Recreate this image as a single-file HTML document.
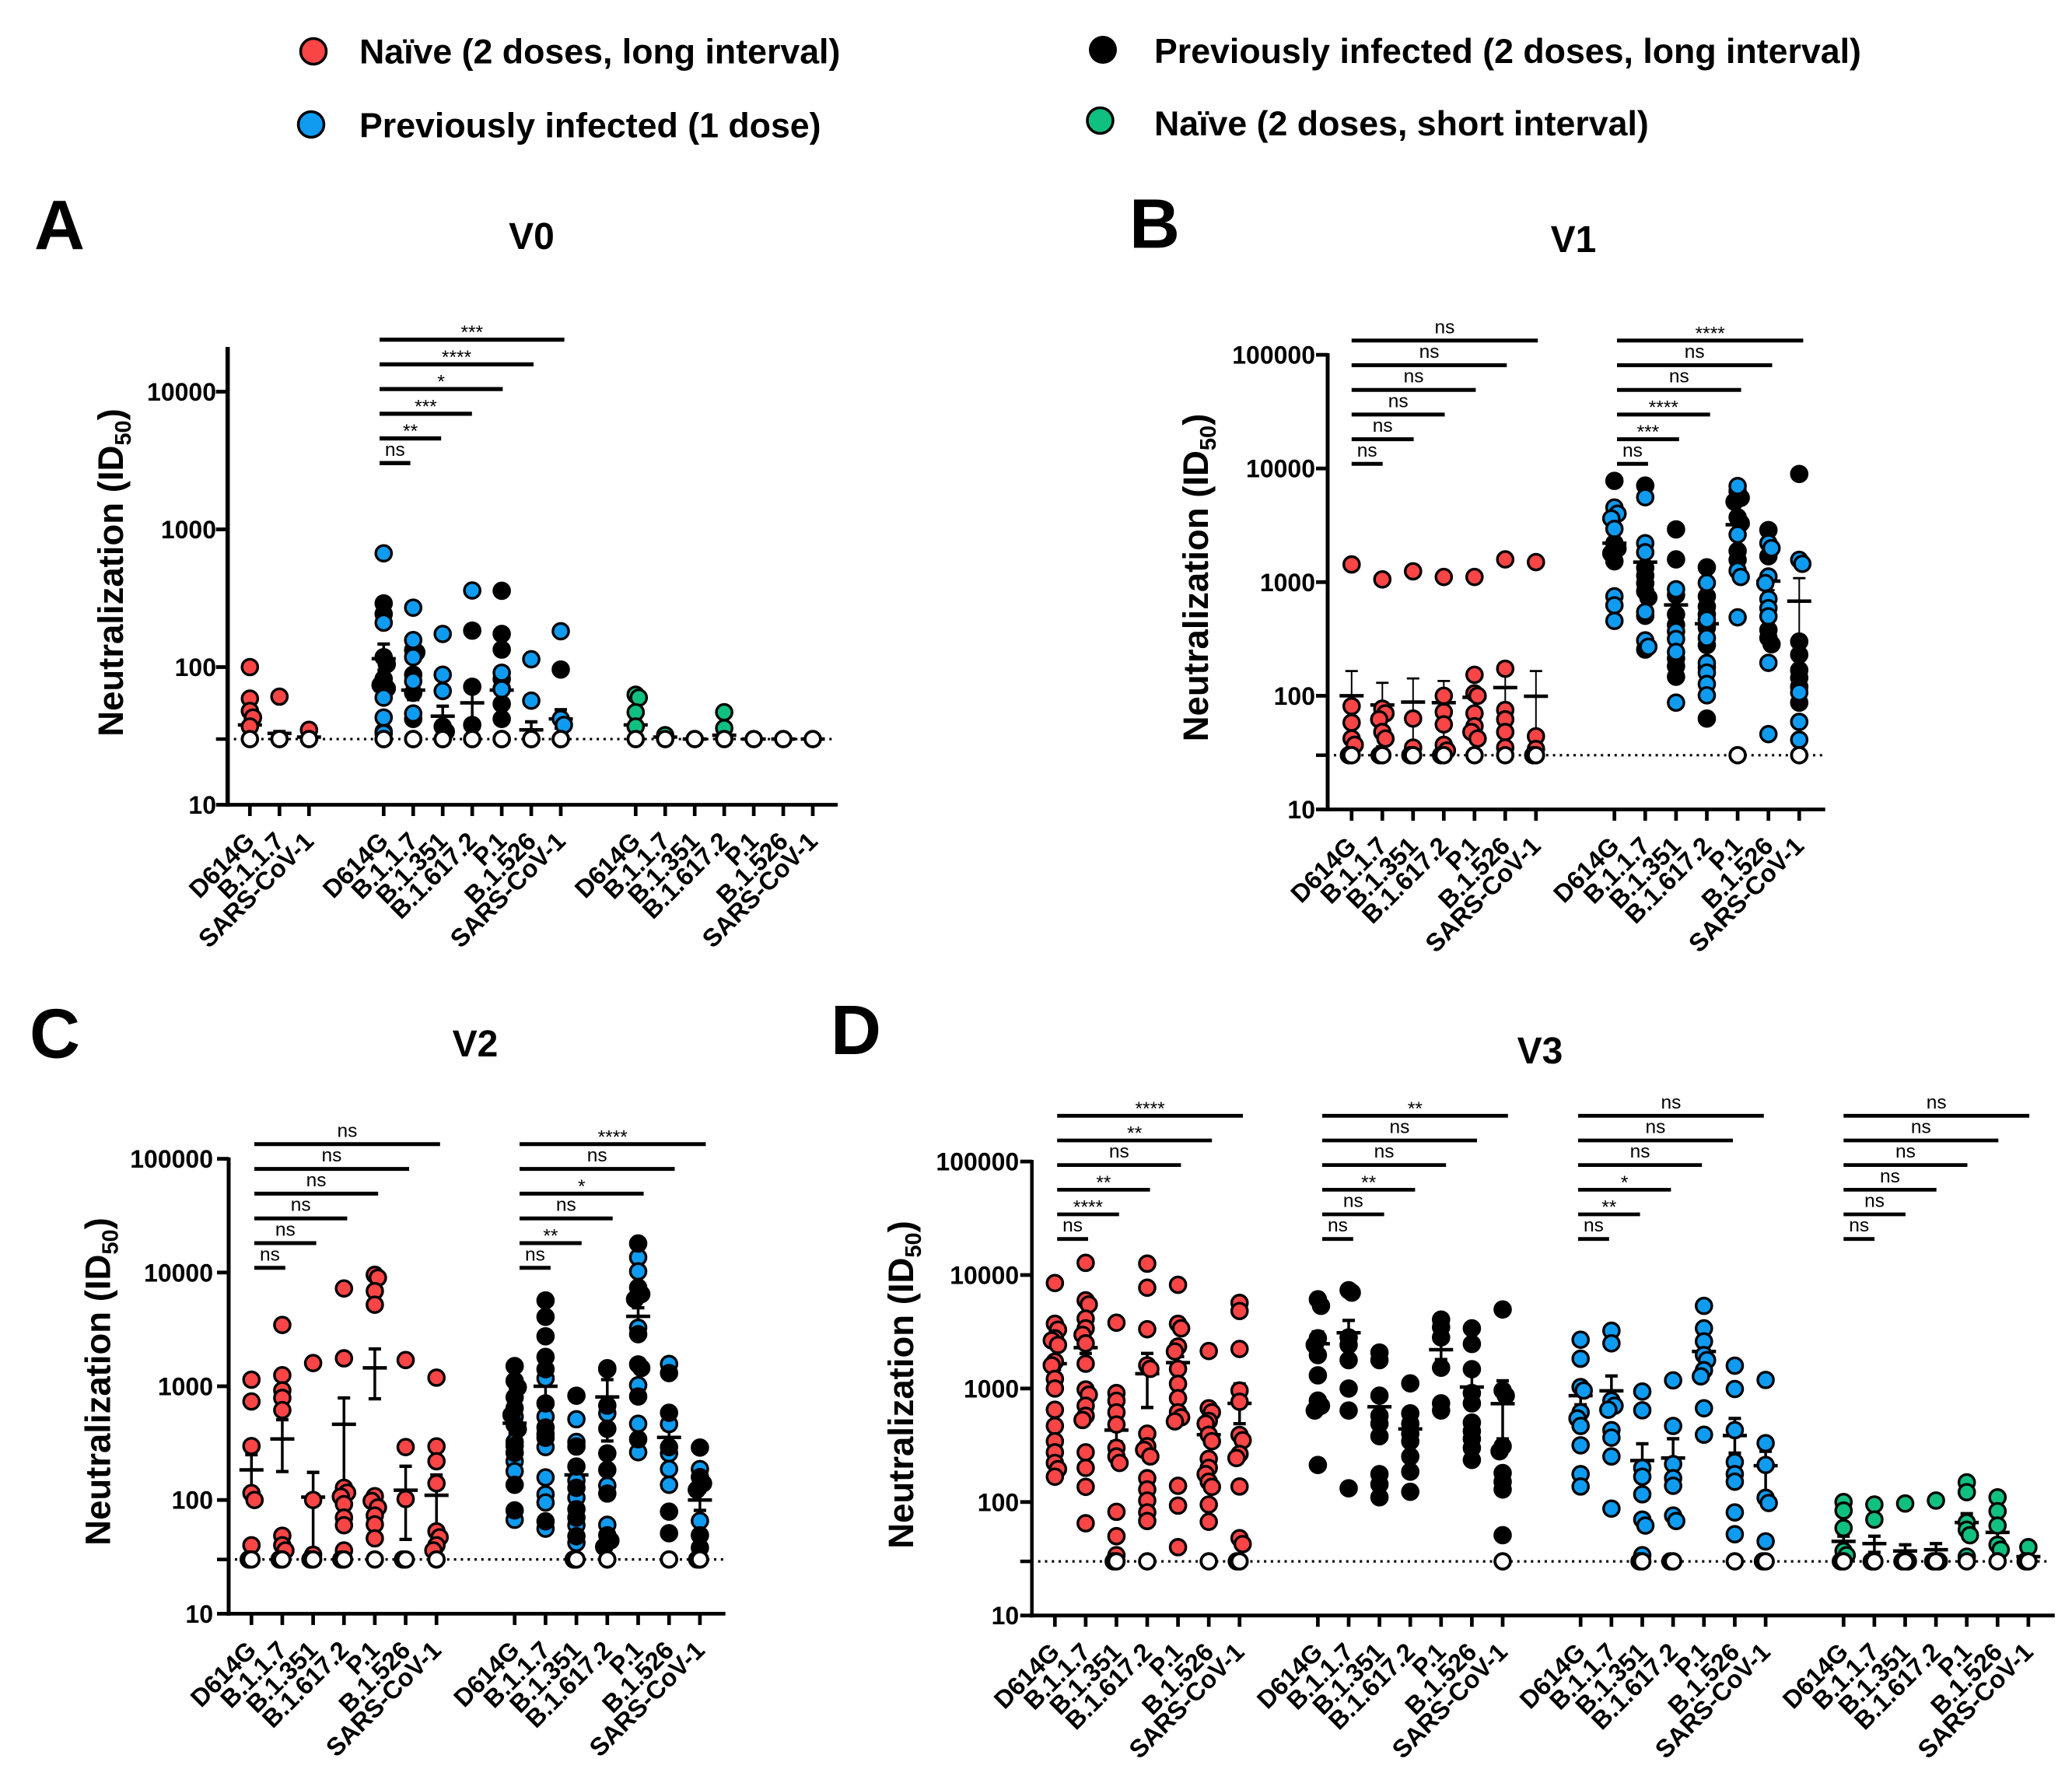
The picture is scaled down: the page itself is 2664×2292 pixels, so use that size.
<!DOCTYPE html>
<html lang="en">
<head>
<meta charset="utf-8">
<title>Neutralization titers by variant and visit</title>
<style>
html,body{margin:0;padding:0;background:#fff}
svg{display:block}
text{font-family:"Liberation Sans",Arial,sans-serif;fill:#000}
.b{font-weight:700}
</style>
</head>
<body>
<svg id="figure" xmlns="http://www.w3.org/2000/svg" width="2664" height="2292" viewBox="0 0 2664 2292">
  <rect width="2664" height="2292" fill="#fff"/>
  <g>
    <circle cx="403" cy="66" r="16.5" fill="#F94545" stroke="#000" stroke-width="3.5"/>
    <text class="b" x="462" y="81.5" font-size="44.7">Naïve (2 doses, long interval)</text>
    <circle cx="400" cy="160" r="16.5" fill="#0F9BF0" stroke="#000" stroke-width="3.5"/>
    <text class="b" x="462" y="176.5" font-size="44.7">Previously infected (1 dose)</text>
    <circle cx="1418" cy="64" r="18" fill="#000"/>
    <text class="b" x="1484" y="81" font-size="44.7">Previously infected (2 doses, long interval)</text>
    <circle cx="1414.5" cy="155" r="16.5" fill="#10C080" stroke="#000" stroke-width="3.5"/>
    <text class="b" x="1484" y="174" font-size="44.7">Naïve (2 doses, short interval)</text>
  </g>
  <text class="b" x="44" y="320.5" font-size="90">A</text>
  <text class="b" x="1452" y="318.5" font-size="90">B</text>
  <text class="b" x="38" y="1359.5" font-size="90">C</text>
  <text class="b" x="1068" y="1355" font-size="90">D</text>
  <text class="b" x="683.5" y="320" font-size="48" text-anchor="middle">V0</text>
  <text class="b" x="2023" y="324" font-size="48" text-anchor="middle">V1</text>
  <text class="b" x="611" y="1358" font-size="48" text-anchor="middle">V2</text>
  <text class="b" x="1980" y="1367" font-size="48" text-anchor="middle">V3</text>
  <g id="plots"></g>
</svg>
<script>
// Shared category and tick data
const categoriesFull = ['D614G','B.1.1.7','B.1.351','B.1.617.2','P.1','B.1.526','SARS-CoV-1'];
const categoriesShort = ['D614G','B.1.1.7','SARS-CoV-1'];
const ticksShortRange = [10,100,1000,10000];
const ticksLongRange = [10,100,1000,10000,100000];
const detectionLimit = 30;

// Panel A (V0)
const aNaiveLong = [[100,59,48,43,37,30],[61,30],[35,30]];
const aNaiveLongMean = [38,33,31];
const aNaiveLongUp = [42,34,32];
const aNaiveLongLow = [34,32,30];
const aPrevTwo = [[290,243,118,105,82,74,70,34,30],[133,128,88,65,42,30],[37,34,30],[184,72,38,30],[358,174,134,82,70,54,42,30],[30],[96,30]];
const aPrevOne = [[670,210,60,43,33,30],[270,157,118,79,46,30],[174,88,67,30],[360,30],[91,69,30],[114,57,30],[182,42,38,30]];
const aPrevMean = [115,68,44,55,68,35,42];
const aPrevUp = [147,80,52,74,85,40,49];
const aPrevLow = [95,58,38,40,55,31,36];
const aNaiveShort = [[63,60,47,37,30],[32,30],[30],[47,36,30],[30],[30],[30]];
const aNaiveShortMean = [38,31,30,32,30,30,30];
const aNaiveShortUp = [41,31,30,34,30,30,30];
const aNaiveShortLow = [35,31,30,30,30,30,30];
const aBracketsMid = ['ns','**','***','*','****','***'];

// Panel B (V1)
const bNaiveLong = [[1430,81,58,42,37,30,30],[1057,77,70,62,48,42,30,30],[1245,63,35,30,30],[1110,100,72,56,37,33,30,30],[1110,153,105,100,70,54,48,42,30],[1585,173,75,62,48,35,30],[1500,44,34,30,30]];
const bNaiveMean = [100,83,88,87,97,118,99];
const bNaiveUp = [165,130,142,135,118,190,165];
const bNaiveLow = [35,36,34,39,76,46,33];
const bPrevOne = [[4530,4000,3630,2940,750,625,456],[5580,2200,1830,547,307,270],[865,369,316,243,87],[986,468,323,194,160,127,101],[7000,2620,1260,1110,490,30],[2200,1990,1120,980,710,590,500,195,46],[1570,1450,107,59,41,30]];
const bPrevTwo = [[7780,2200,1980,1790,1525],[7070,1340,1140,977,830,731,506,255],[2910,1585,771,520,420,213,182,147],[1350,750,608,520,398,279,177,63],[6300,5520,5100,3720,3300,1880,1570],[2870,1690,379,323,284],[8950,300,230,168,144,120,87]];
const bPrevMean = [2200,1500,630,430,3200,1020,680];
const bPrevUp = [2700,1750,750,490,3900,1190,1084];
const bPrevLow = [1700,1250,510,370,2500,850,270];
const bBracketsNaive = ['ns','ns','ns','ns','ns','ns'];
const bBracketsPrev = ['ns','***','****','ns','ns','****'];

// Panel C (V2)
const cNaiveLong = [[1143,735,298,115,100,40,30,30],[3460,1250,920,790,617,48.5,40,36,30,30],[1600,100,33,30,30],[7240,1760,128,116,107,92,70,60,36,30,30],[9550,9000,6870,5210,108,98,86,73,61,46,30],[1700,292,102,30,30],[1190,296,219,140,53,47,40,36,30]];
const cNaiveMean = [184,344,106,463,1450,122,110];
const cNaiveUp = [250,508,175,790,2130,198,166];
const cNaiveLow = [118,178,37,136,776,45,55];
const cPrevOne = [[540,324,219,179,67],[1175,540,380,292,158,112,95,56],[513,324,148,105,60,42,30,30],[1413,578,134,60.5,30],[13600,10230,3270,1021,468,263],[1570,465,257,187,136,30],[187,65.5,30,30]];
const cPrevTwo = [[1504,1115,980,800,643,560,460,420,300,260,136,81],[5680,4075,2750,1810,1413,707,434,352,65],[826,295,197,128,83,70,48],[1440,676,423,257,184,114,49,44,38.7],[18000,7380,6460,5830,2870,1557,1447,813,342],[1306,585,292,79,51],[289,159,140,123,49,38]];
const cPrevMean = [473,1000,166,805,4120,355,100];
const cPrevUp = [560,1200,205,1143,4900,415,118];
const cPrevLow = [385,780,127,330,3340,295,81];
const cBracketsNaive = ['ns','ns','ns','ns','ns','ns'];
const cBracketsPrev = ['ns','**','ns','*','ns','****'];

// Panel D (V3)
const dNaiveLong = [[8500,3720,3300,2770,2650,2420,1725,1600,1216,1000,650,468,343,274,221,195,167],[12800,5980,5500,4130,3390,2970,2500,1655,980,883,705,575,528,274,200,136,65],[3800,912,780,617,482,300,252,221,82,50,34,30,30],[12600,7730,3330,1600,1490,400,310,288,252,162,129,103,81,68,30],[8200,3720,3390,2345,2120,1490,1100,822,617,557,513,139,93,40],[2140,670,617,518,490,392,343,240,200,176,151,136,95,67,30],[5680,4820,2230,960,765,390,350,265,244,137,48,42.6,30,30]];
const dNaiveMean = [1655,2290,430,1350,1690,392,740];
const dNaiveUp = [1840,2540,520,2040,1910,432,1100];
const dNaiveLow = [1470,2040,340,680,1470,352,490];
const dPrevTwo = [[6110,5350,2770,2420,1970,1306,782,705,640,212],[7350,7000,2820,2420,1778,1000,640,132],[2075,1778,865,575,490,380,176,143,110],[1110,604,490,400,343,252,185,123],[4050,3470,2820,1525,740,640],[3390,2470,1480,912,740,501,422,361,300,235],[4970,960,865,310,280,180,151,129,51,30]];
const dPrevTwoMean = [2480,3100,690,440,2200,1030,735];
const dPrevTwoUp = [3150,3980,780,490,2600,1370,1170];
const dPrevTwoLow = [1810,2220,600,390,1800,690,360];
const dPrevOne = [[2690,1830,1030,960,617,545,468,316,176,137],[3230,2500,782,705,650,430,369,252,87.5],[940,643,200,167,117,70,62,34,30,30],[1180,468,216,162,139,76,68,30,30],[5350,3390,2600,1970,1778,1450,1280,670,392],[1590,990,430,225,176,151,81,52,30],[1190,330,212,109,98,45,30,30]];
const dPrevOneMean = [865,955,232,244,2120,385,209];
const dPrevOneUp = [1120,1290,326,361,2450,545,280];
const dPrevOneLow = [720,700,170,170,1800,270,120];
const dNaiveShort = [[100,84,59,37,34,30,30],[95,70,30,30],[97,30,30,30],[103,30,30,30],[149,122,66,57,51,33,30],[110,83,62,42,38,30],[40,30,30]];
const dNaiveShortMean = [45,43,37,38,66,54,33];
const dNaiveShortUp = [50,50,42,43,79,60,35];
const dNaiveShortLow = [38,36,33,33,55,45,31];
const dBracketsRed = ['ns','****','**','ns','**','****'];
const dBracketsBlack = ['ns','ns','**','ns','ns','**'];
const dBracketsBlue = ['ns','**','*','ns','ns','ns'];
const dBracketsGreen = ['ns','ns','ns','ns','ns','ns'];

const RED = '#F94545', BLUE = '#0F9BF0', BLACK = '#000', GREEN = '#10C080';
const SVGNS = 'http://www.w3.org/2000/svg';

const panels = [
  {id:'a', axisX:292.7, axisW:5.5, axisRight:1077, y10:1034.5, decade:177, top:448, ticks:ticksShortRange, labelGap:14.7, titleX:158, titleY:736, barW:3.5, dotEnd:1072,
   bracketY:595.3, bracketStep:31.73, bracketT:5.3, groups:[
    {name:'naive-long', x0:321.3, step:38, cats:categoriesShort, series:[[aNaiveLong,RED]], mean:aNaiveLongMean, up:aNaiveLongUp, low:aNaiveLongLow},
    {name:'previously-infected', x0:493.3, step:37.95, cats:categoriesFull, series:[[aPrevTwo,BLACK],[aPrevOne,BLUE]], mean:aPrevMean, up:aPrevUp, low:aPrevLow, brackets:aBracketsMid, bStart:488, bStep:39.6},
    {name:'naive-short', x0:817.3, step:37.95, cats:categoriesFull, series:[[aNaiveShort,GREEN]], mean:aNaiveShortMean, up:aNaiveShortUp, low:aNaiveShortLow}]},
  {id:'b', axisX:1707, axisW:5, axisRight:2346.7, y10:1040.5, decade:146.1, top:456, ticks:ticksLongRange, labelGap:16, titleX:1553, titleY:742.5, barW:2, dotEnd:2344,
   bracketY:596.3, bracketStep:31.7, bracketT:5, groups:[
    {name:'naive-long', x0:1737.8, step:39.5, cats:categoriesFull, series:[[bNaiveLong,RED]], mean:bNaiveMean, up:bNaiveUp, low:bNaiveLow, brackets:bBracketsNaive, bStart:1737.8, bStep:39.9},
    {name:'previously-infected', x0:2075.7, step:39.6, cats:categoriesFull, series:[[bPrevTwo,BLACK],[bPrevOne,BLUE]], mean:bPrevMean, up:bPrevUp, low:bPrevLow, brackets:bBracketsPrev, bStart:2079, bStep:39.9}]},
  {id:'c', axisX:294, axisW:5, axisRight:932.7, y10:2074.4, decade:146.2, top:1489.7, ticks:ticksLongRange, labelGap:20, titleX:141.6, titleY:1776, barW:3.5, dotEnd:930,
   bracketY:1629.8, bracketStep:31.8, bracketT:5, groups:[
    {name:'naive-long', x0:323.3, step:39.65, cats:categoriesFull, series:[[cNaiveLong,RED]], mean:cNaiveMean, up:cNaiveUp, low:cNaiveLow, brackets:cBracketsNaive, bStart:327, bStep:39.8},
    {name:'previously-infected', x0:661.7, step:39.7, cats:categoriesFull, series:[[cPrevOne,BLUE],[cPrevTwo,BLACK]], mean:cPrevMean, up:cPrevUp, low:cPrevLow, brackets:cBracketsPrev, bStart:668, bStep:39.9}]},
  {id:'d', axisX:1326.7, axisW:4.5, axisRight:2641.8, y10:2076.7, decade:145.9, top:1493, ticks:ticksLongRange, labelGap:16.5, titleX:1174, titleY:1780, barW:3.5, dotEnd:2635,
   bracketY:1592.7, bracketStep:31.68, bracketT:4.8, groups:[
    {name:'naive-long', x0:1356.3, step:39.57, cats:categoriesFull, series:[[dNaiveLong,RED]], mean:dNaiveMean, up:dNaiveUp, low:dNaiveLow, brackets:dBracketsRed, bStart:1359.2, bStep:39.8},
    {name:'previously-infected-two', x0:1694.4, step:39.6, cats:categoriesFull, series:[[dPrevTwo,BLACK]], mean:dPrevTwoMean, up:dPrevTwoUp, low:dPrevTwoLow, brackets:dBracketsBlack, bStart:1700, bStep:39.8},
    {name:'previously-infected-one', x0:2032.2, step:39.65, cats:categoriesFull, series:[[dPrevOne,BLUE]], mean:dPrevOneMean, up:dPrevOneUp, low:dPrevOneLow, brackets:dBracketsBlue, bStart:2029, bStep:39.8},
    {name:'naive-short', x0:2370.3, step:39.6, cats:categoriesFull, series:[[dNaiveShort,GREEN]], mean:dNaiveShortMean, up:dNaiveShortUp, low:dNaiveShortLow, brackets:dBracketsGreen, bStart:2370.3, bStep:39.8}]}
];

function make(parent, tag, props) {
  const el = document.createElementNS(SVGNS, tag);
  for (const k in props) el.setAttribute(k, props[k]);
  parent.appendChild(el);
  return el;
}

function drawLine(parent, x1, y1, x2, y2, w, name) {
  const el = make(parent, 'line', {x1:x1, y1:y1, x2:x2, y2:y2, stroke:'#000', 'stroke-width':w});
  
  
  return el;
}

function drawText(parent, str, x, y, size, bold, anchor, name) {
  const el = make(parent, 'text', {x:x, y:y, 'font-size':size, 'text-anchor':anchor});
  if (bold) el.setAttribute('font-weight', '700');
  el.textContent = str;
  
  
  return el;
}

function drawPanel(p) {
  const root = document.getElementById('plots');
  const g = make(root, 'g', {});
  
  
  const yOf = v => p.y10 - (Math.log10(v) - 1) * p.decade;
  const xOf = (grp, i) => grp.x0 + grp.step * i;

  // reference line at the detection limit
  const dot = make(g, 'line', {x1:p.axisX + 8, x2:p.dotEnd, y1:yOf(detectionLimit), y2:yOf(detectionLimit), stroke:'#000', 'stroke-width':3.2, 'stroke-dasharray':'3 5.8'});
  
  
  drawLine(g, p.axisX - 15, yOf(detectionLimit), p.axisX, yOf(detectionLimit), 4.5, 'y-tick-detection-limit');

  // y axis
  drawLine(g, p.axisX, p.top - 2, p.axisX, p.y10 + 2.5, p.axisW, 'y-axis');
  p.ticks.forEach(t => {
    drawLine(g, p.axisX - 15, yOf(t), p.axisX, yOf(t), 4.8, 'y-tick-' + t);
    drawText(g, String(t), p.axisX - p.labelGap, yOf(t) + 11.5, 32, true, 'end', 'y-tick-label-' + t);
  });
  drawLine(g, p.axisX - 2, p.y10, p.axisRight, p.y10, 4.8, 'x-axis');

  // y axis title
  const title = make(g, 'text', {transform:'translate(' + p.titleX + ',' + p.titleY + ') rotate(-90)', 'text-anchor':'middle', 'font-size':45.5, 'font-weight':'700'});
  
  
  title.appendChild(document.createTextNode('Neutralization (ID'));
  const sub = make(title, 'tspan', {'font-size':29, dy:10});
  sub.textContent = '50';
  const close = make(title, 'tspan', {dy:-10});
  close.textContent = ')';

  p.groups.forEach(grp => {
    const gg = make(g, 'g', {});
    
    

    grp.cats.forEach((cat, i) => {
      const x = xOf(grp, i);
      drawLine(gg, x, p.y10, x, p.y10 + 14.5, 4.7, 'x-tick-' + cat);
      const lab = drawText(gg, cat, 0, 0, 32.5, true, 'end', 'x-tick-label-' + cat);
      lab.setAttribute('transform', 'translate(' + (x + 8) + ',' + (p.y10 + 49) + ') rotate(-45)');

      // mean and error bars
      const m = grp.mean[i], up = grp.up[i], low = grp.low[i];
      drawLine(gg, x, yOf(up), x, yOf(low), p.barW, 'error-bar-' + cat);
      drawLine(gg, x - 8, yOf(up), x + 8, yOf(up), p.barW + .8, 'error-cap-upper-' + cat);
      drawLine(gg, x - 8, yOf(low), x + 8, yOf(low), p.barW + .8, 'error-cap-lower-' + cat);
      drawLine(gg, x - 15.5, yOf(m), x + 15.5, yOf(m), 4.5, 'mean-line-' + cat);
    });

    // colored points, then open points at the detection limit on top
    const whites = [];
    grp.series.forEach(s => {
      const values = s[0], color = s[1];
      values.forEach((col, i) => {
        let lastY = -1e9, side = 1, nLimit = 0;
        col.forEach(v => {
          if (v === detectionLimit) {
            whites.push([xOf(grp, i) + (nLimit === 0 ? 0 : (nLimit % 2 ? -3.5 : 3.5)), yOf(v), grp.cats[i], nLimit]);
            nLimit++;
            return;
          }
          const y = yOf(v);
          let off = 0;
          if (Math.abs(y - lastY) < 9) { off = 4 * side; side = -side; }
          lastY = y;
          const c = make(gg, 'circle', {cx:xOf(grp, i) + off, cy:y, r:10.1, fill:color, stroke:'#000', 'stroke-width':3.4});
          
          
        });
      });
    });
    whites.sort((a, b) => b[3] - a[3]).forEach(w => {
      const c = make(gg, 'circle', {cx:w[0], cy:w[1], r:9.9, fill:'#fff', stroke:'#000', 'stroke-width':3.8});
      
      
    });

    // significance brackets
    if (grp.brackets) {
      grp.brackets.forEach((label, k) => {
        const xEnd = grp.bStart + grp.bStep * (k + 1);
        const yB = p.bracketY - k * p.bracketStep;
        drawLine(gg, grp.bStart, yB, xEnd, yB, p.bracketT, 'significance-bracket-' + (k + 1));
        const isStar = label.charAt(0) === '*';
        drawText(gg, label, (grp.bStart + xEnd) / 2, isStar ? yB - 1.5 : yB - 9.5, 24.5, false, 'middle', 'significance-label-' + (k + 1));
      });
    }
  });
}

panels.forEach(drawPanel);
</script>
</body>
</html>
